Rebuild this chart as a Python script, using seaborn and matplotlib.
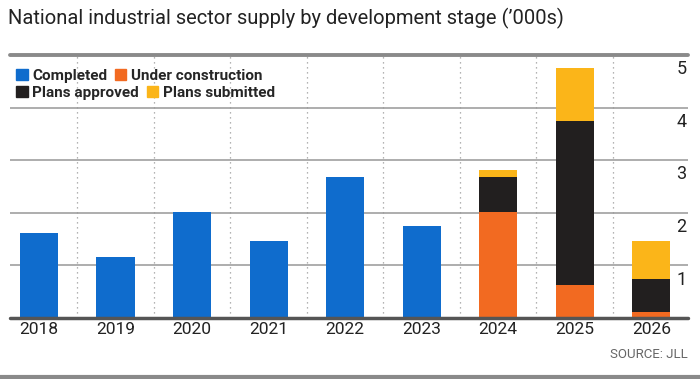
import pandas as pd
import numpy as np
import matplotlib
matplotlib.use('Agg')
import matplotlib.pyplot as plt
import seaborn as sns
from matplotlib.patches import Patch

years = [2018, 2019, 2020, 2021, 2022, 2023, 2024, 2025, 2026]
completed = [1.62, 1.16, 2.01, 1.47, 2.69, 1.75, 0, 0, 0]
under_construction = [0, 0, 0, 0, 0, 0, 2.02, 0.62, 0.11]
plans_approved = [0, 0, 0, 0, 0, 0, 0.67, 3.12, 0.64]
plans_submitted = [0, 0, 0, 0, 0, 0, 0.12, 1.01, 0.72]
stages = ['Completed', 'Under construction', 'Plans approved', 'Plans submitted']
colors = ['#0f6ccd', '#f26a21', '#221f1f', '#fbb519']
yticks = [1, 2, 3, 4, 5]

sns.set_style('white')
plt.rcParams['font.family'] = ['Roboto', 'DejaVu Sans']

rows = []
for stage, vals in zip(stages, [completed, under_construction, plans_approved, plans_submitted]):
    for y, v in zip(years, vals):
        rows.append({'year': y, 'stage': stage, 'value': v})
df = pd.DataFrame(rows)

fig = plt.figure(figsize=(7, 3.79), dpi=100)
ax = fig.add_axes([10 / 700, 61 / 379, 678 / 700, 263 / 379])

# seaborn stacks the last hue level at the bottom
sns.histplot(data=df, x='year', weights='value', hue='stage', hue_order=stages[::-1],
             palette=dict(zip(stages, colors)), multiple='stack', discrete=True,
             shrink=0.5, alpha=1, linewidth=0, legend=False, ax=ax)

ax.set_xlim(years[0] - 0.38, years[-1] + 0.48)
ax.set_ylim(0, 5)
for s in ax.spines.values():
    s.set_visible(False)

for t in yticks[:-1]:
    ax.axhline(t, color='#a0a0a0', lw=1.2, zorder=0)
ax.axhline(5, color='#8a8a8a', lw=2.8, zorder=0, clip_on=False)
ax.axhline(0, color='#555555', lw=2.5, zorder=5, clip_on=False)
for x in years[:-1]:
    ax.axvline(x + 0.5, color='#9a9a9a', lw=0.9, ls=(0, (1, 3)), zorder=0)

ax.set_xticks(years)
ax.set_xticklabels([str(y) for y in years], fontsize=12.5, color='#222222')
ax.tick_params(axis='x', length=0, pad=3)
ax.set_yticks([])
for t in yticks:
    ax.text(0.998, t - 0.1, str(t), transform=ax.get_yaxis_transform(),
            ha='right', va='top', fontsize=13, color='#222222')
ax.set_xlabel('')
ax.set_ylabel('')

fig.text(8 / 700, 1 - 18 / 379, "National industrial sector supply by development stage (\u2019000s)",
         fontsize=14.5, color='#222222', va='center', ha='left')

h = [Patch(color=c) for c in colors]
kw = dict(frameon=False, handlelength=0.75, handleheight=0.75, handletextpad=0.3,
          columnspacing=0.5, borderaxespad=0, prop={'weight': 'bold', 'size': 11})
leg1 = ax.legend(h[:2], stages[:2], ncol=2, loc='upper left',
                 bbox_to_anchor=(0, 1 - 8 / 263), **kw)
ax.add_artist(leg1)
ax.legend(h[2:], stages[2:], ncol=2, loc='upper left',
          bbox_to_anchor=(0, 1 - 25 / 263), **kw)

fig.text(688 / 700, 1 - 355 / 379, 'SOURCE: JLL', fontsize=9.5, color='#666666',
         ha='right', va='center')
fig.add_artist(plt.Line2D([0, 1], [1 - 377 / 379] * 2, color='#8a8a8a', lw=3,
                          transform=fig.transFigure))

fig.savefig('out.png', dpi=100, facecolor='white')
